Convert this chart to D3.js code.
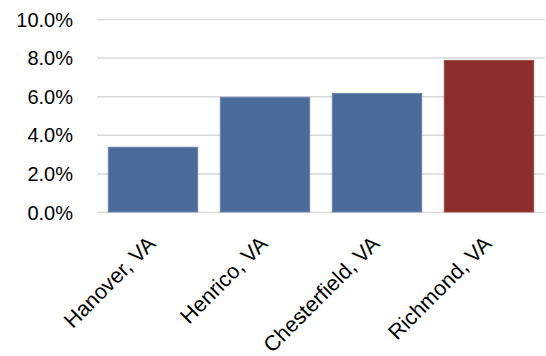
<!DOCTYPE html>
<html>
<head>
<meta charset="utf-8">
<script src="https://cdn.jsdelivr.net/npm/d3@7"></script>
<style>
    body { margin: 0; background: white; }
    text { font-family: "Liberation Sans", Arial, sans-serif; fill: #000; }
</style>
</head>
<body>
<script>
// share of each county
var places = ["Hanover, VA", "Henrico, VA", "Chesterfield, VA", "Richmond, VA"]
var values = [3.36, 5.95, 6.15, 7.86]
var yTicks = [0, 2, 4, 6, 8, 10]
var highlight = "Richmond, VA"

var width = 546
var height = 356
var margin = {top: 19, right: 1, bottom: 144, left: 97}

var svg = d3.select("body")
    .append("svg")
    .attr("width", width)
    .attr("height", height)

var xScale = d3.scaleBand()
    .domain(places)
    .range([margin.left, width - margin.right])
    .paddingInner(0.2)
    .paddingOuter(0.1)

var yScale = d3.scaleLinear()
    .domain([0, 10])
    .range([height - margin.bottom, margin.top])

// gridlines and tick labels
var yAxis = d3.axisLeft(yScale)
    .tickValues(yTicks)
    .tickSize(-(width - margin.right - margin.left))
    .tickPadding(24)
    .tickFormat(function(d) { return d.toFixed(1) + "%"; })

var gy = svg.append("g")
    .attr("transform", "translate(" + margin.left + ",0)")
    .call(yAxis)
gy.select(".domain").remove()
gy.selectAll(".tick line")
    .attr("stroke", "#d9d9d9")
    .attr("stroke-width", 1.5)
gy.selectAll(".tick text")
    .style("font-size", "20px")
    .attr("dy", "0.35em")

// bars
svg.selectAll(".bar")
    .data(places)
    .enter()
    .append("rect")
    .attr("class", "bar")
    .attr("x", function(d) { return xScale(d); })
    .attr("width", xScale.bandwidth())
    .attr("y", function(d, i) { return yScale(values[i]); })
    .attr("height", function(d, i) { return yScale(0) - yScale(values[i]); })
    .attr("fill", function(d) { return d == highlight ? "#8a2d2b" : "#4a6b9a"; })
    .attr("stroke", function(d) { return d == highlight ? "#9c4a48" : "#7089b0"; })
    .attr("stroke-width", 0.8)

// category labels, rotated
var xAxis = d3.axisBottom(xScale).tickSize(0).tickPadding(0)
var gx = svg.append("g")
    .attr("transform", "translate(0," + yScale(0) + ")")
    .call(xAxis)
gx.select(".domain").remove()
gx.selectAll(".tick text")
    .style("font-size", "21.5px")
    .style("text-anchor", "end")
    .attr("dy", "0")
    .attr("transform", "translate(4,33) rotate(-45)")
</script>
</body>
</html>
